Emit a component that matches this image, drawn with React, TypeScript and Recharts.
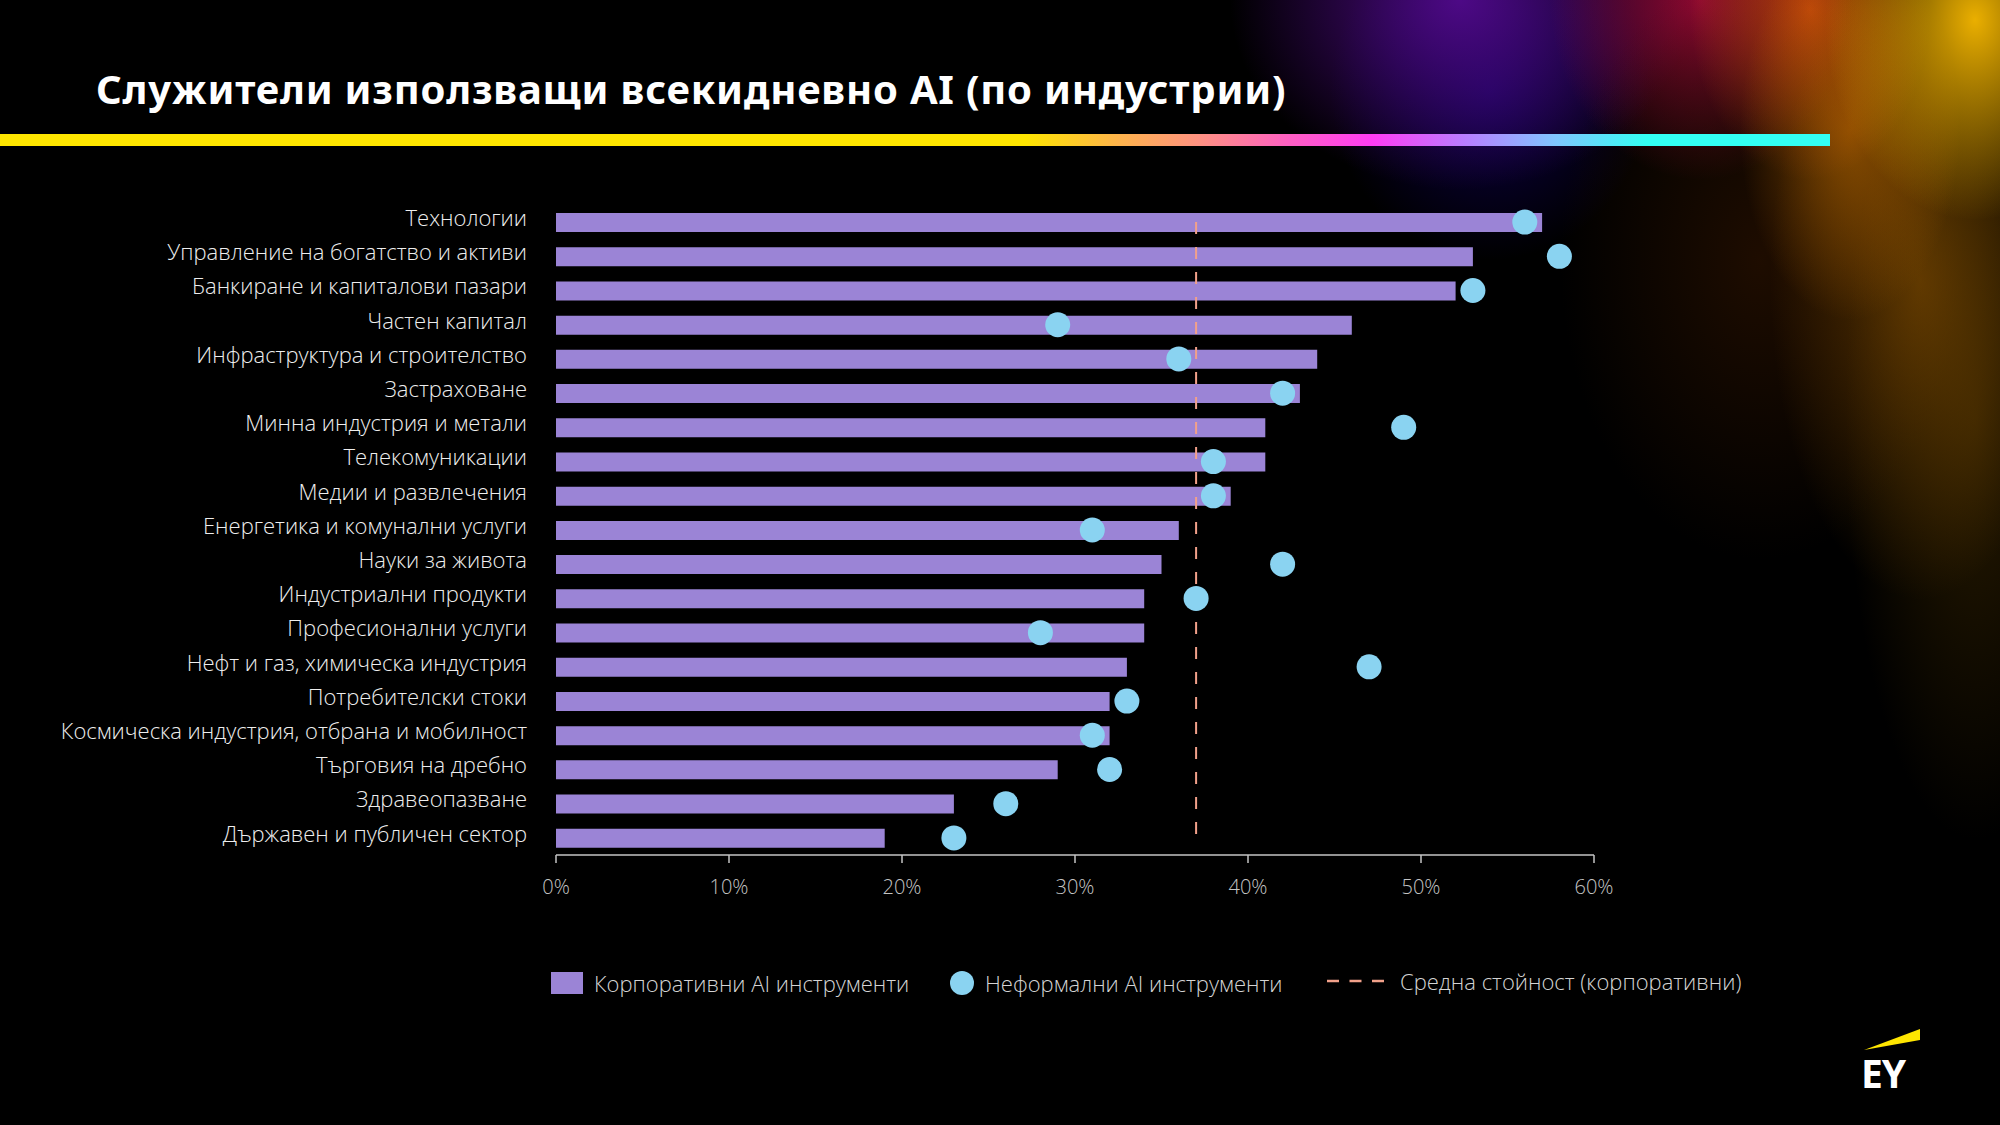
import { ComposedChart, Bar, Line, XAxis, YAxis, ReferenceLine } from "recharts";

const industries = [
  "Технологии",
  "Управление на богатство и активи",
  "Банкиране и капиталови пазари",
  "Частен капитал",
  "Инфраструктура и строителство",
  "Застраховане",
  "Минна индустрия и метали",
  "Телекомуникации",
  "Медии и развлечения",
  "Енергетика и комунални услуги",
  "Науки за живота",
  "Индустриални продукти",
  "Професионални услуги",
  "Нефт и газ, химическа индустрия",
  "Потребителски стоки",
  "Космическа индустрия, отбрана и мобилност",
  "Търговия на дребно",
  "Здравеопазване",
  "Държавен и публичен сектор",
];

// корпоративни AI инструменти (%)
const corporate = [57, 53, 52, 46, 44, 43, 41, 41, 39, 36, 35, 34, 34, 33, 32, 32, 29, 23, 19];
// неформални AI инструменти (%)
const informal = [56, 58, 53, 29, 36, 42, 49, 38, 38, 31, 42, 37, 28, 47, 33, 31, 32, 26, 23];

const avgCorporate = 37;
const xTicks = [0, 10, 20, 30, 40, 50, 60];

const title = "Служители използващи всекидневно AI (по индустрии)";
const seriesNames = [
  "Корпоративни AI инструменти",
  "Неформални AI инструменти",
  "Средна стойност (корпоративни)",
];

const BAR_COLOR = "#9B84D6";
const DOT_COLOR = "#8AD3F1";
const AVG_COLOR = "#F2A18A";

const data = industries.map((name, i) => ({
  name,
  corporate: corporate[i],
  informal: informal[i],
}));

const glow = [
  "radial-gradient(ellipse 150px 200px at 1975px 20px, rgba(246,184,0,0.95), rgba(240,160,0,0) 100%)",
  "radial-gradient(ellipse 110px 190px at 1850px 130px, rgba(215,120,0,0.55), rgba(180,90,0,0) 100%)",
  "radial-gradient(ellipse 150px 320px at 1920px 280px, rgba(170,100,0,0.5), rgba(120,70,0,0) 100%)",
  "radial-gradient(ellipse 130px 420px at 1975px 420px, rgba(90,60,0,0.45), rgba(60,40,0,0) 100%)",
  "radial-gradient(ellipse 200px 300px at 1760px 260px, rgba(60,25,0,0.5), rgba(40,15,0,0) 100%)",
  "radial-gradient(ellipse 120px 170px at 1810px 10px, rgba(220,80,10,0.85), rgba(200,60,20,0) 100%)",
  "radial-gradient(ellipse 150px 180px at 1700px 0px, rgba(170,10,60,0.85), rgba(140,0,60,0) 100%)",
  "radial-gradient(ellipse 230px 190px at 1460px 0px, rgba(85,10,145,0.9), rgba(40,0,90,0) 100%)",
  "radial-gradient(ellipse 160px 170px at 1490px 90px, rgba(12,0,75,0.95), rgba(10,0,60,0) 100%)",
].join(", ");

const legendText = { color: "#d4d4d4", fontSize: 22, fontWeight: 300, whiteSpace: "nowrap" as const };

const App = () => {
  return (
    <div
      style={{
        position: "fixed",
        top: 0,
        left: 0,
        width: 2000,
        height: 1125,
        overflow: "hidden",
        background: `${glow}, #000`,
        fontFamily: "'Open Sans', 'Noto Sans', sans-serif",
      }}
    >
      <div
        style={{
          position: "absolute",
          top: 69,
          left: 96,
          fontFamily: "'Noto Sans', sans-serif",
          fontWeight: 700,
          fontSize: 40,
          lineHeight: "40px",
          letterSpacing: 0.8,
          color: "#fff",
          whiteSpace: "nowrap",
        }}
      >
        {title}
      </div>
      <div
        style={{
          position: "absolute",
          top: 134,
          left: 0,
          width: 1830,
          height: 12,
          background:
            "linear-gradient(to right, #FFE600 0%, #FFE600 56%, #FFB54A 61%, #FF9282 65.5%, #FF5FC4 70.5%, #FF3CF4 75%, #B97DFF 80%, #80C6FF 85%, #33FFF3 90%, #33FFF3 100%)",
        }}
      />

      <div style={{ position: "absolute", top: 0, left: 0 }}>
        <ComposedChart
          width={2000}
          height={1125}
          data={data}
          layout="vertical"
          margin={{ top: 205, right: 406, bottom: 230, left: 0 }}
        >
          <XAxis
            type="number"
            domain={[0, 60]}
            ticks={xTicks}
            tickFormatter={(v) => `${v}%`}
            height={40}
            axisLine={{ stroke: "#c4c4c4", strokeWidth: 1.5 }}
            tickLine={{ stroke: "#c4c4c4", strokeWidth: 1.5 }}
            tickSize={8}
            tickMargin={17}
            tick={{ fill: "#c4c4c4", fontSize: 20, fontWeight: 300 }}
          />
          <YAxis
            type="category"
            dataKey="name"
            width={556}
            interval={0}
            axisLine={false}
            tickLine={false}
            tickSize={0}
            tickMargin={29}
            tick={{ fill: "#eeeeee", fontSize: 22, fontWeight: 300, dy: -4 }}
          />
          <Bar dataKey="corporate" fill={BAR_COLOR} barSize={19} isAnimationActive={false} />
          <ReferenceLine
            segment={[
              { x: avgCorporate, y: industries[0] },
              { x: avgCorporate, y: industries[industries.length - 1] },
            ]}
            stroke={AVG_COLOR}
            strokeWidth={2}
            strokeDasharray="12 13"
          />
          <Line
            dataKey="informal"
            stroke="none"
            dot={{ r: 12.5, fill: DOT_COLOR, stroke: "none", strokeWidth: 0 }}
            activeDot={false}
            isAnimationActive={false}
          />
        </ComposedChart>
      </div>

      {/* легенда */}
      <div style={{ position: "absolute", top: 969, left: 551, display: "flex", alignItems: "center", height: 28 }}>
        <div style={{ width: 32, height: 22, background: BAR_COLOR, marginRight: 11 }} />
        <span style={legendText}>{seriesNames[0]}</span>
      </div>
      <div style={{ position: "absolute", top: 969, left: 950, display: "flex", alignItems: "center", height: 28 }}>
        <div style={{ width: 24, height: 24, borderRadius: 12, background: DOT_COLOR, marginRight: 11 }} />
        <span style={legendText}>{seriesNames[1]}</span>
      </div>
      <div style={{ position: "absolute", top: 967, left: 1327, display: "flex", alignItems: "center", height: 28 }}>
        <svg width={57} height={6} style={{ marginRight: 16 }}>
          <line x1={0} y1={3} x2={57} y2={3} stroke={AVG_COLOR} strokeWidth={2.5} strokeDasharray="12 10.5" />
        </svg>
        <span style={legendText}>{seriesNames[2]}</span>
      </div>

      {/* EY лого */}
      <svg style={{ position: "absolute", left: 1855, top: 1022 }} width={90} height={85}>
        <polygon points="9,28 65,7 65,18" fill="#FFE600" />
        <text
          x={6}
          y={66}
          fill="#fff"
          fontFamily="'Noto Sans', sans-serif"
          fontWeight={700}
          fontSize={39}
          letterSpacing={-1}
        >
          EY
        </text>
      </svg>
    </div>
  );
};

export default App;
